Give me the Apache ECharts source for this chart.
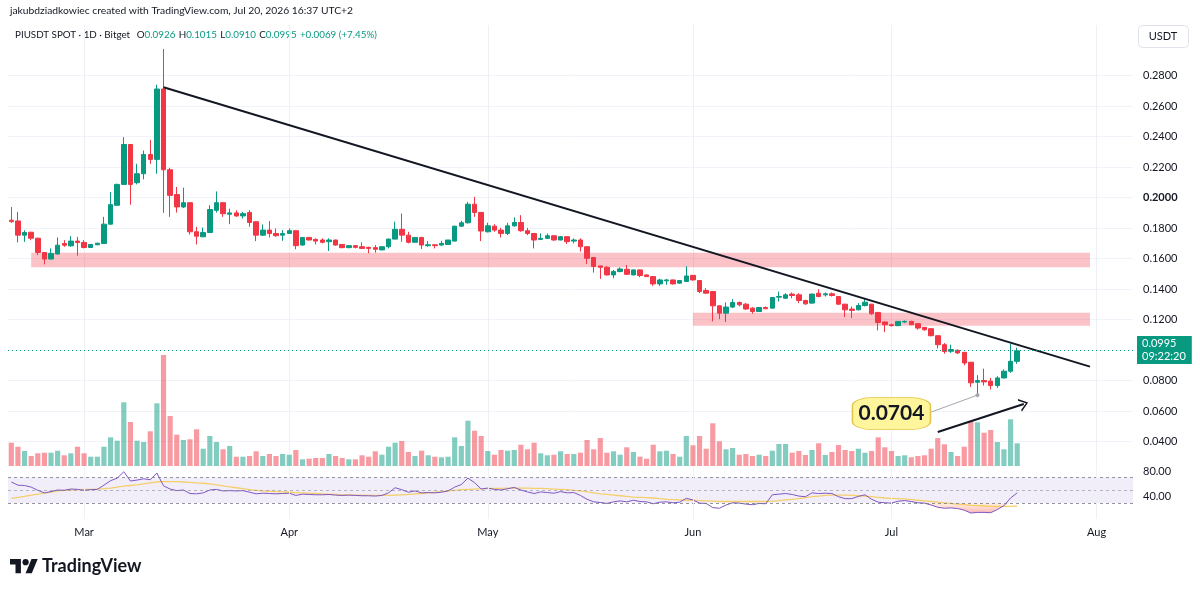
<!DOCTYPE html>
<html><head><meta charset="utf-8">
<script src="https://cdn.jsdelivr.net/npm/echarts/dist/echarts.min.js"></script>
<style>html,body{margin:0;padding:0;background:#fff}#c{width:1200px;height:592px}</style>
</head><body><div id="c"></div>
<script>
const FONT = "Lato, 'Noto Sans', sans-serif";

// ---- categories (daily bars from 2026-02-18, extra empty days on the right) ----
const startDate = Date.UTC(2026, 1, 18);
const dayCount = 170;
const dates = [];
for (let i = 0; i < dayCount; i++) dates.push(new Date(startDate + i * 86400000).toISOString().slice(0, 10));
const monthNames = ['Jan','Feb','Mar','Apr','May','Jun','Jul','Aug','Sep','Oct','Nov','Dec'];
const monthStarts = ['2026-03-01','2026-04-01','2026-05-01','2026-06-01','2026-07-01','2026-08-01'];

// ---- OHLC ----
const open = [0.1852,0.1847,0.1754,0.1773,0.1734,0.1640,0.1597,0.1630,0.1699,0.1684,
0.1715,0.1706,0.1673,0.1691,0.1699,0.1826,0.1950,0.2087,0.2349,0.2098,
0.2157,0.2283,0.2251,0.2713,0.2183,0.2020,0.1939,0.1967,0.1776,0.1743,
0.1771,0.1917,0.1967,0.1891,0.1900,0.1880,0.1903,0.1842,0.1754,0.1787,
0.1765,0.1754,0.1765,0.1783,0.1689,0.1739,0.1726,0.1722,0.1711,0.1722,
0.1693,0.1672,0.1685,0.1678,0.1674,0.1672,0.1657,0.1678,0.1728,0.1792,
0.1754,0.1707,0.1739,0.1685,0.1691,0.1689,0.1693,0.1715,0.1813,0.1835,
0.1957,0.1903,0.1776,0.1813,0.1787,0.1765,0.1815,0.1837,0.1783,0.1765,
0.1726,0.1733,0.1750,0.1722,0.1744,0.1715,0.1722,0.1678,0.1607,0.1552,
0.1543,0.1493,0.1515,0.1530,0.1493,0.1526,0.1493,0.1482,0.1434,0.1454,
0.1460,0.1439,0.1450,0.1490,0.1456,0.1391,0.1384,0.1290,0.1242,0.1282,
0.1312,0.1301,0.1275,0.1253,0.1279,0.1275,0.1347,0.1340,0.1367,0.1362,
0.1325,0.1308,0.1373,0.1362,0.1369,0.1351,0.1301,0.1269,0.1264,0.1292,
0.1301,0.1247,0.1184,0.1166,0.1160,0.1184,0.1188,0.1173,0.1149,0.1140,
0.1094,0.1035,0.0992,0.0998,0.0985,0.0920,0.0789,0.0800,0.0796,0.0767,
0.0817,0.0861,0.0926];
const high = [0.1939,0.1906,0.1786,0.1776,0.1736,0.1642,0.1667,0.1739,0.1721,0.1747,
0.1743,0.1721,0.1695,0.1704,0.1874,0.2037,0.2092,0.2397,0.2351,0.2222,
0.2309,0.2379,0.2741,0.2976,0.2196,0.2070,0.2065,0.1969,0.1808,0.1804,
0.1950,0.2041,0.1969,0.1928,0.1917,0.1906,0.1918,0.1844,0.1824,0.1846,
0.1798,0.1787,0.1798,0.1785,0.1741,0.1741,0.1733,0.1733,0.1733,0.1724,
0.1695,0.1689,0.1689,0.1707,0.1678,0.1689,0.1680,0.1730,0.1842,0.1896,
0.1776,0.1741,0.1743,0.1715,0.1693,0.1717,0.1722,0.1815,0.1848,0.1972,
0.2005,0.1905,0.1835,0.1826,0.1802,0.1835,0.1870,0.1885,0.1802,0.1767,
0.1765,0.1765,0.1752,0.1748,0.1746,0.1733,0.1733,0.1680,0.1609,0.1554,
0.1552,0.1526,0.1543,0.1558,0.1528,0.1528,0.1495,0.1484,0.1467,0.1467,
0.1462,0.1458,0.1550,0.1492,0.1458,0.1406,0.1386,0.1292,0.1312,0.1334,
0.1319,0.1308,0.1282,0.1282,0.1286,0.1347,0.1384,0.1373,0.1378,0.1373,
0.1330,0.1371,0.1399,0.1378,0.1378,0.1353,0.1303,0.1286,0.1308,0.1340,
0.1303,0.1249,0.1188,0.1173,0.1190,0.1194,0.1192,0.1177,0.1151,0.1142,
0.1096,0.1046,0.1035,0.1005,0.0987,0.0922,0.0835,0.0878,0.0817,0.0828,
0.0872,0.1042,0.1015];
const low = [0.1834,0.1706,0.1710,0.1721,0.1623,0.1562,0.1595,0.1628,0.1677,0.1677,
0.1619,0.1667,0.1671,0.1688,0.1697,0.1824,0.1948,0.2085,0.1954,0.2087,
0.2120,0.2222,0.2157,0.1900,0.1874,0.1902,0.1932,0.1758,0.1693,0.1741,
0.1769,0.1902,0.1874,0.1826,0.1874,0.1863,0.1809,0.1715,0.1748,0.1739,
0.1744,0.1717,0.1763,0.1661,0.1685,0.1720,0.1693,0.1700,0.1650,0.1685,
0.1668,0.1668,0.1667,0.1663,0.1635,0.1639,0.1655,0.1667,0.1726,0.1711,
0.1700,0.1705,0.1663,0.1678,0.1667,0.1685,0.1690,0.1713,0.1809,0.1830,
0.1874,0.1715,0.1772,0.1776,0.1739,0.1754,0.1809,0.1776,0.1754,0.1667,
0.1724,0.1728,0.1717,0.1720,0.1696,0.1700,0.1646,0.1565,0.1508,0.1467,
0.1489,0.1471,0.1510,0.1493,0.1491,0.1478,0.1480,0.1421,0.1421,0.1428,
0.1430,0.1436,0.1447,0.1456,0.1373,0.1371,0.1188,0.1203,0.1184,0.1275,
0.1286,0.1264,0.1238,0.1251,0.1269,0.1273,0.1319,0.1336,0.1340,0.1308,
0.1297,0.1303,0.1347,0.1351,0.1351,0.1297,0.1216,0.1210,0.1260,0.1286,
0.1231,0.1129,0.1118,0.1155,0.1157,0.1177,0.1164,0.1133,0.1127,0.1090,
0.1010,0.0976,0.0981,0.0975,0.0900,0.0758,0.0704,0.0767,0.0741,0.0752,
0.0813,0.0850,0.0910];
const close = [0.1843,0.1754,0.1771,0.1734,0.1640,0.1597,0.1634,0.1688,0.1688,0.1715,
0.1706,0.1673,0.1693,0.1701,0.1826,0.1954,0.2087,0.2349,0.2087,0.2157,
0.2283,0.2251,0.2713,0.2183,0.2015,0.1939,0.1967,0.1776,0.1747,0.1771,
0.1922,0.1967,0.1895,0.1900,0.1880,0.1895,0.1837,0.1754,0.1787,0.1765,
0.1750,0.1765,0.1783,0.1685,0.1739,0.1722,0.1715,0.1707,0.1722,0.1689,
0.1672,0.1685,0.1674,0.1667,0.1667,0.1661,0.1678,0.1728,0.1792,0.1754,
0.1707,0.1739,0.1689,0.1691,0.1685,0.1700,0.1722,0.1813,0.1835,0.1957,
0.1903,0.1781,0.1815,0.1787,0.1765,0.1815,0.1837,0.1783,0.1765,0.1722,
0.1733,0.1750,0.1722,0.1744,0.1711,0.1722,0.1678,0.1602,0.1548,0.1543,
0.1493,0.1515,0.1532,0.1497,0.1526,0.1489,0.1482,0.1434,0.1460,0.1460,
0.1434,0.1456,0.1486,0.1460,0.1384,0.1373,0.1290,0.1242,0.1282,0.1312,
0.1297,0.1269,0.1253,0.1279,0.1271,0.1345,0.1351,0.1362,0.1358,0.1325,
0.1303,0.1367,0.1351,0.1369,0.1358,0.1301,0.1264,0.1260,0.1292,0.1314,
0.1238,0.1181,0.1166,0.1160,0.1188,0.1188,0.1166,0.1144,0.1133,0.1094,
0.1035,0.0990,0.1003,0.0981,0.0915,0.0785,0.0800,0.0791,0.0767,0.0817,
0.0861,0.0926,0.0995];

// ---- volume (relative units) ----
const volume = [23.3,19.3,15,10,12.7,13.3,13.3,15.3,10.7,12.7,
19.3,12.7,9.3,9.3,19.3,28.7,25.3,63.7,44,25.3,
24,34.7,62.7,111,50,31.3,26,26.7,36.7,17.3,
30,24,16.7,20,9.3,9.3,10,14.7,10,12,
10,12,11.3,16,6.7,7.3,8,8,12,10,
8,6.7,6.7,10.7,9.3,14.7,11.3,19.3,23.3,25,
14,10,15.3,10.7,9.3,8.7,9.3,28.7,20,45.3,
35.3,30,15,11.3,16,15.3,16,21.3,16.7,23.3,
12.7,10.7,11.3,14.7,12,12,13.3,26,16.7,28,
13.3,14.7,11.3,18.7,14,9.3,7.3,21.3,14.7,15.3,
12,9.3,30,20.7,30,17.3,42.7,24.7,16.7,18,
11.3,12,10,11.3,10,15.3,22,22,13.3,15,
11,16,22.7,11,14,21,16,15,17.3,13.3,
15,28.7,18.7,15,10,10.7,8.7,10,10.7,17.3,
28,21.7,14,10,19.3,45,43.7,33.3,36,24,
16.7,46.7,22.7];

// ---- RSI (14) and its moving average ----
const rsi = [63,58,57.5,55,50,46,48,50.5,50,52,
51.5,50,51,51.5,58,65,69,79,64.5,66,
68,66.5,77,57,52,49.5,50.5,45,44.5,46,
50.5,51.5,49,49.5,49,49.5,47,44.5,45.5,45,
44.5,45,45.5,42,44,43.5,43,43,43.5,42.5,
42,42.5,42,41.5,41.5,41,42,46,54,51,
47,49,46,46.5,46,47,49,55,59,69,
62,52,53.5,51.5,50.5,52.5,54.5,50.5,47.5,45,
47.5,46.5,45.5,48,46,46.5,42,36,32,31,
29.5,32,33.5,32,34.5,32.5,32,29,31.5,32,
30.5,31.5,37.5,35,30,29.5,23,22,27,30.5,
30,28.5,27.5,29.5,29,43,44,45,43.5,41,
40,46,45,45.5,45,40,37,37,40.5,43,
36,31.5,30.5,30,33,34,32.5,30.5,30,27,
23.5,22,22.5,21.5,19,14.5,15.5,15.5,15,20,
26,38,46];
const rsiMa = [37.5,39,40.5,42.5,44,45.5,47,49,50,50.5,
51,51.5,51.5,52,52.5,53.5,55,56.5,57.5,58.5,
60,61.5,63,63.5,63.5,63.5,63,62.5,61.5,61,
60,58.5,57,55.5,54,52.5,51,50,49,48.5,
48,47.5,47,46.5,46,45.5,45,44.5,44,43.5,
43,43,42.5,42.5,42,42,42,42,42.5,43,
43.5,44.5,45,46,47,48,49,50,51,51.5,
52,52.5,52.5,53,53,53.5,53.5,53.5,53.5,53,
53,52.5,52,51.5,51,50,49,47.5,46,44.5,
43.5,42.5,41.5,40.5,39.5,39,38.5,38,37,36,
35.5,35,34.5,34.5,34,33.5,33,32.5,32.5,32.5,
32.5,32.5,32.5,32.5,32.5,33,34,35,36,37,
38.5,40,41,42,42.5,42.5,42.5,42,41.5,41,
40,39,38,37.5,37,36.5,35.5,34.5,33.5,32.5,
31.5,30.5,29.5,28.5,27.5,26.5,26,25.5,25,25,
25,25,25.5];

// ---- axis ticks ----
const priceGrid = [0.04,0.06,0.08,0.10,0.12,0.14,0.16,0.18,0.20,0.22,0.24,0.26,0.28];
const priceLabels = [0.04,0.06,0.08,0.12,0.14,0.16,0.18,0.20,0.22,0.24,0.26,0.28];
const rsiLabels = [40, 80];
const rsiLevels = [70, 50, 30];

// ---- drawings (price / date anchors) ----
const trendLine = [[23, 0.2724], [163, 0.0891]];
const zoneA = [[3, 0.1639], [163, 0.1543]];
const zoneB = [[103, 0.1245], [163, 0.1160]];
const arrowLine = [[140, 0.0462], [153, 0.0646]];
const calloutAt = [133, 0.0583];
const calloutLink = [139, 0.0593];
const lowIdx = 146;
const lastIdx = 152;

const UP = '#089981', DOWN = '#f23645';
const candleData = open.map((o, i) => [o, close[i], low[i], high[i]]);
const volData = volume.map((v, i) => ({ value: v, itemStyle: { color: close[i] >= open[i] ? 'rgba(8,153,129,0.5)' : 'rgba(242,54,69,0.5)' } }));
const oversold = rsi.map((r, i) => (i >= 138 ? Math.min(r, 30) : '-'));
const vLines = monthStarts.map(d => ({ xAxis: d }));

const chevron = 'path://M0,12 L6,0 L12,12 L10.6,12.6 L6,3.2 L1.4,12.6 Z';

const option = {
  animation: false,
  textStyle: { fontFamily: FONT },
  grid: [
    { left: 8, right: 67, top: 25, height: 441 },
    { left: 8, right: 67, top: 467, height: 52 }
  ],
  xAxis: [
    { type: 'category', gridIndex: 0, data: dates, boundaryGap: true,
      axisLine: { show: false }, axisTick: { show: false }, axisLabel: { show: false }, splitLine: { show: false } },
    { type: 'category', gridIndex: 1, data: dates, boundaryGap: true,
      axisLine: { show: false }, axisTick: { show: false }, splitLine: { show: false },
      axisLabel: { interval: (i, v) => v.slice(8) === '01', formatter: v => monthNames[+v.slice(5, 7) - 1],
        color: '#131722', fontSize: 11, margin: 8, fontFamily: FONT } }
  ],
  yAxis: [
    { type: 'value', gridIndex: 0, position: 'right', min: 0.0239, max: 0.3133,
      axisLine: { show: false }, axisTick: { show: false, customValues: priceGrid },
      splitLine: { show: true, lineStyle: { color: '#f0f3fa', width: 1 } },
      axisLabel: { customValues: priceLabels, margin: 10, color: '#131722', fontSize: 11, fontFamily: FONT,
        formatter: v => (Math.abs(v - 0.2) < 1e-9 ? '{b|' + v.toFixed(4) + '}' : v.toFixed(4)),
        rich: { b: { fontWeight: 'bold', fontSize: 11, color: '#131722', fontFamily: FONT } } } },
    { type: 'value', gridIndex: 0, min: 0, max: 441, show: false, splitLine: { show: false } },
    { type: 'value', gridIndex: 1, position: 'right', min: 5.2, max: 86.4,
      axisLine: { show: false }, axisTick: { show: false }, splitLine: { show: false },
      axisLabel: { customValues: rsiLabels, margin: 10, color: '#131722', fontSize: 11, fontFamily: FONT,
        formatter: v => v.toFixed(2) } }
  ],
  series: [
    { name: 'Volume', type: 'bar', xAxisIndex: 0, yAxisIndex: 1, data: volData, barWidth: '78%', z: 1,
      markLine: { silent: true, z: 0, symbol: ['none', 'none'], label: { show: false },
        lineStyle: { color: '#eef0f4', width: 1, type: 'solid' }, data: vLines } },
    { name: 'PIUSDT', type: 'candlestick', xAxisIndex: 0, yAxisIndex: 0, data: candleData, barWidth: 5, z: 3,
      itemStyle: { color: UP, color0: DOWN, borderColor: UP, borderColor0: DOWN, borderWidth: 1 },
      markArea: { silent: true, z: 2, itemStyle: { color: 'rgba(242,54,69,0.30)' },
        data: [zoneA, zoneB].map(z => [
          { xAxis: dates[z[0][0]], yAxis: z[0][1] },
          { xAxis: dates[z[1][0]], yAxis: z[1][1] }]) },
      markLine: { silent: true, symbol: ['none', 'none'], label: { show: false },
        data: [
          [ { coord: [dates[trendLine[0][0]], trendLine[0][1]], lineStyle: { color: '#131722', width: 2, type: 'solid' } },
            { coord: [dates[trendLine[1][0]], trendLine[1][1]] } ],
          [ { coord: [dates[arrowLine[0][0]], arrowLine[0][1]], symbol: 'none', lineStyle: { color: '#131722', width: 2, type: 'solid' } },
            { coord: [dates[arrowLine[1][0]], arrowLine[1][1]], symbol: chevron, symbolSize: [13, 9] } ],
          [ { coord: [dates[calloutLink[0]], calloutLink[1]], symbol: 'none', lineStyle: { color: '#a3a6af', width: 1, type: 'solid' } },
            { coord: [dates[lowIdx], low[lowIdx]], symbol: 'circle', symbolSize: 4 } ],
          { yAxis: close[lastIdx], lineStyle: { color: UP, width: 1, type: [1, 3] },
            label: { show: true, position: 'end', distance: 4, formatter: close[lastIdx].toFixed(4) + '\n09:22:20',
              backgroundColor: UP, color: '#fff', fontSize: 11, lineHeight: 13, padding: [1, 6, 1, 5], fontFamily: FONT } }
        ] },
      markPoint: { silent: true,
        data: [ { coord: [dates[calloutAt[0]], calloutAt[1]], symbol: 'roundRect', symbolSize: [78, 32],
          itemStyle: { color: '#fff59d', borderColor: '#e3c548', borderWidth: 1 },
          label: { show: true, position: 'inside', formatter: low[lowIdx].toFixed(4), color: '#131722',
            fontSize: 21, fontWeight: 'bold', fontFamily: FONT } } ] } },
    { name: 'RSI', type: 'line', xAxisIndex: 1, yAxisIndex: 2, data: rsi, symbol: 'none', z: 4,
      lineStyle: { color: '#7e57c2', width: 1 },
      markArea: { silent: true, itemStyle: { color: 'rgba(126,87,194,0.1)' }, data: [[{ yAxis: 30 }, { yAxis: 70 }]] },
      markLine: { silent: true, symbol: ['none', 'none'], label: { show: false },
        data: rsiLevels.map(v => ({ yAxis: v, lineStyle: { color: '#787b86', width: 1, type: [3, 3], opacity: v === 50 ? 0.5 : 0.8 } }))
          .concat(vLines.map(l => Object.assign({ lineStyle: { color: '#eef0f4', width: 1, type: 'solid' } }, l))) } },
    { name: 'RSI MA', type: 'line', xAxisIndex: 1, yAxisIndex: 2, data: rsiMa, symbol: 'none', z: 3,
      lineStyle: { color: 'rgba(246,196,60,0.75)', width: 1.3 } },
    { name: 'Oversold', type: 'line', xAxisIndex: 1, yAxisIndex: 2, data: oversold, symbol: 'none', z: 2,
      lineStyle: { width: 0 },
      areaStyle: { origin: 30, color: new echarts.graphic.LinearGradient(0, 0, 0, 1, [
        { offset: 0, color: 'rgba(255,190,120,0.35)' }, { offset: 1, color: 'rgba(242,54,69,0.55)' }]) } }
  ],
  graphic: [
    { type: 'text', left: 10, top: 6, style: { text: 'jakubdziadkowiec created with TradingView.com, Jul 20, 2026 16:37 UTC+2',
      fill: '#131722', fontSize: 10.3, fontFamily: FONT } },
    { type: 'text', left: 15, top: 29, style: {
      text: '{n|PIUSDT SPOT · 1D · Bitget}  {n|O}{g|' + open[lastIdx].toFixed(4) + '} {n|H}{g|' + high[lastIdx].toFixed(4) +
        '} {n|L}{g|' + low[lastIdx].toFixed(4) + '} {n|C}{g|' + close[lastIdx].toFixed(4) + '} {g|+0.0069 (+7.45%)}',
      rich: { n: { fill: '#131722', fontSize: 9.8, fontFamily: FONT }, g: { fill: UP, fontSize: 9.8, fontFamily: FONT } } } },
    { type: 'rect', shape: { x: 1138.5, y: 25.5, width: 50, height: 22, r: 4 }, style: { fill: '#fff', stroke: '#e0e3eb', lineWidth: 1 } },
    { type: 'text', x: 1163, y: 36.5, style: { text: 'USDT', fill: '#131722', fontSize: 11, fontFamily: FONT, align: 'center', verticalAlign: 'middle' } },
    { type: 'polygon', shape: { points: [[10, 559.1], [20.9, 559.1], [20.9, 573.2], [15.5, 573.2], [15.5, 564.6], [10, 564.6]] }, style: { fill: '#131722' } },
    { type: 'polygon', shape: { points: [[31.8, 573.2], [25.6, 573.2], [31.5, 559.1], [37.7, 559.1]] }, style: { fill: '#131722' } },
    { type: 'circle', shape: { cx: 25.6, cy: 562.2, r: 3.1 }, style: { fill: '#131722' } },
    { type: 'text', left: 42, top: 557, style: { text: 'TradingView', fill: '#131722', fontSize: 18, fontWeight: 'bold', fontFamily: FONT } }
  ]
};

const chart = echarts.init(document.getElementById('c'), null, { renderer: 'canvas' });
chart.setOption(option);
</script></body></html>
